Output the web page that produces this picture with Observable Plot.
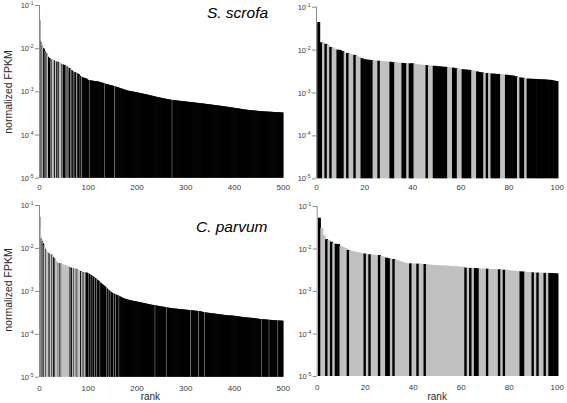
<!DOCTYPE html>
<html><head><meta charset="utf-8">
<script src="https://cdn.jsdelivr.net/npm/d3@7"></script>
<script src="https://cdn.jsdelivr.net/npm/@observablehq/plot@0.6"></script>
<style>
body{margin:0;background:#fff;}
#root{position:relative;width:567px;height:403px;overflow:hidden;background:#fff;font-family:"Liberation Sans",Arial,sans-serif;}
.lbl{position:absolute;white-space:nowrap;color:#2a2a2a;line-height:1;}
</style></head><body><div id="root"></div>
<script>
// ---- DATA ----
const speciesTitles = ["S. scrofa", "C. parvum"];
const yAxisTitle = "normalized FPKM";
const xAxisTitle = "rank";
const xTicksWide = [0, 100, 200, 300, 400, 500];
const xTicksZoom = [0, 20, 40, 60, 80, 100];
const yTicks = [1e-5, 1e-4, 1e-3, 1e-2, 1e-1];

// normalized FPKM x 10^6, ranks 1..500
const scrofaFPKMe6 = [
44000,14800,14400,13600,13000,11500,11200,10400,10000,9800,
9200,8700,8300,8000,7800,7500,7200,6700,6300,6000,
5900,5800,5700,5600,5600,5500,5400,5400,5300,5250,
5200,5100,5050,5000,4950,4900,4850,4850,4800,4800,
4700,4600,4500,4450,4400,4350,4300,4250,4200,4150,
4100,4050,4000,3950,3900,3850,3800,3700,3600,3550,
3500,3450,3400,3350,3300,3200,3100,3000,2950,2900,
2850,2800,2780,2750,2720,2700,2680,2650,2600,2560,
2520,2480,2400,2300,2250,2200,2150,2120,2100,2080,
2070,2060,2050,2040,2030,2000,1980,1950,1900,1850,
1840,1830,1820,1810,1800,1790,1780,1775,1770,1760,
1755,1750,1740,1730,1720,1715,1710,1705,1700,1700,
1690,1680,1670,1650,1640,1630,1610,1600,1590,1580,
1570,1560,1550,1540,1520,1500,1490,1480,1470,1460,
1450,1440,1430,1420,1410,1400,1390,1380,1370,1360,
1350,1340,1330,1320,1310,1300,1290,1280,1270,1260,
1250,1240,1230,1215,1200,1190,1180,1170,1160,1150,
1140,1130,1120,1110,1100,1090,1080,1070,1060,1050,
1045,1040,1035,1030,1025,1020,1015,1010,1005,1000,
995,990,985,980,975,970,965,960,955,950,
945,940,935,930,925,920,915,910,905,900,
895,890,885,880,875,870,865,860,855,850,
845,840,835,830,825,820,815,810,805,800,
795,790,785,780,775,770,765,760,755,750,
746,742,738,734,730,726,722,718,714,710,
706,702,698,694,690,686,682,678,674,670,
667,664,661,658,655,652,649,646,643,640,
638,636,634,632,630,628,626,624,622,620,
618,616,614,612,610,608,606,604,602,600,
599,598,596,594,592,590,588,586,584,582,
580,579,578,576,574,572,570,569,568,566,
564,562,560,559,558,556,554,552,550,549,
548,546,544,542,540,539,538,536,534,532,
530,529,528,526,524,522,520,519,518,516,
514,512,510,509,508,506,504,502,500,499,
498,496,494,492,490,489,488,486,484,482,
480,479,478,476,474,472,470,469,468,466,
464,462,460,459,458,456,454,452,450,449,
448,446,444,442,440,439,438,436,434,432,
430,429,428,426,424,422,420,419,418,416,
414,412,410,409,408,406,404,402,400,399,
398,396,394,392,390,389,388,386,384,382,
380,379,378,377,376,375,374,373,372,371,
370,369,368,367,366,365,364,363,362,361,
360,359,358,357,356,355,354,353,352,351,
350,349,348,347,346,346,345,345,344,344,
343,343,342,342,341,341,340,340,339,339,
338,338,337,337,336,336,335,335,334,334,
333,333,332,332,331,331,330,330,329,329,
328,328,327,327,326,326,325,325,324,324
];
const scrofaGrayRanks = [3,5,7,8,12,14,15,17,18,24,25,27,28,29,30,33,34,35,38,41,42,43,44,45,47,48,55,56,59,60,65,66,70,72,77,78,84,87,103,135,155,273];

const parvumFPKMe6 = [
53000,30000,20500,16600,15800,14500,13500,12900,12700,11500,
10800,10200,9300,9000,8700,8400,8200,8000,7800,7600,
7450,7300,7200,7100,7050,7000,6700,6400,6100,5900,
5800,5650,5450,5200,5000,4800,4600,4500,4470,4440,
4420,4400,4380,4350,4320,4250,4200,4150,4100,4070,
4040,4000,3980,3950,3920,3900,3870,3840,3800,3750,
3700,3550,3520,3500,3480,3460,3430,3400,3380,3360,
3340,3320,3300,3280,3260,3240,3200,3170,3140,3100,
3060,3020,2980,2940,2900,2870,2840,2810,2780,2750,
2730,2710,2700,2690,2680,2670,2660,2650,2630,2600,
2560,2520,2480,2440,2400,2360,2320,2280,2240,2200,
2150,2110,2070,2030,2000,1960,1920,1880,1840,1800,
1760,1720,1680,1640,1600,1560,1520,1480,1450,1420,
1390,1360,1330,1300,1270,1240,1210,1180,1150,1120,
1090,1060,1040,1020,1000,980,960,940,920,900,
890,880,870,860,850,840,830,820,810,800,
790,780,770,760,750,740,730,720,710,700,
690,682,675,668,662,656,650,645,640,635,
630,625,620,616,612,608,604,600,597,594,
591,588,585,582,579,576,573,570,567,564,
561,558,555,552,549,546,543,540,537,534,
531,528,525,522,519,516,513,510,507,504,
501,498,495,492,489,486,483,480,478,476,
474,472,470,468,466,464,462,460,458,456,
454,452,450,448,446,444,442,440,438,436,
434,432,430,428,426,424,422,420,418,416,
414,412,410,408,406,404,402,400,398,396,
394,393,392,391,390,389,388,387,386,385,
384,383,382,381,380,379,378,377,376,375,
374,373,372,371,370,369,368,367,366,365,
364,363,362,361,360,359,358,357,356,355,
354,353,352,351,350,349,348,347,346,345,
344,343,342,341,340,339,338,337,336,335,
333,331,329,327,325,323,321,319,317,315,
314,313,312,311,310,309,308,307,306,305,
304,303,302,301,300,299,298,297,296,295,
294,293,292,291,290,289,288,287,286,285,
284,283,282,281,280,279,278,277,276,275,
274,273,272,271,270,270,269,269,268,268,
267,267,266,266,265,265,264,264,263,263,
262,261,260,259,258,257,256,255,254,253,
252,251,250,249,248,247,246,245,244,243,
242,242,241,241,240,240,239,239,238,238,
237,237,236,236,235,235,234,234,233,233,
232,231,230,229,228,227,226,225,224,223,
222,222,221,221,220,220,219,219,218,218,
217,217,216,216,215,215,214,214,213,213,
212,212,211,211,210,210,209,209,208,208,
207,207,207,206,206,206,205,205,205,204,
204,204,203,203,203,202,202,202,201,201
];
const parvumGrayRanks = [2,3,5,7,10,11,12,14,15,16,17,18,19,21,23,24,25,27,28,31,33,34,35,36,37,38,40,41,43,44,
46,47,48,49,50,51,52,53,54,55,56,57,58,59,60,61,63,65,68,69,70,72,73,74,75,77,79,80,81,82,83,84,87,88,89,91,93,94,96,
101,105,109,114,118,125,138,142,146,153,157,164,238,261,311,327,340,457,472,490];

// ---- DRAWING ----
const root = document.getElementById("root");
const NS = "http://www.w3.org/2000/svg";

function panel(vals, grays, maxRank, xTicks, o) {
  const g = new Set(grays);
  const data = vals.slice(0, maxRank).map((v, i) => ({rank: i + 1, fpkm: v / 1e6, kind: g.has(i + 1) ? "light" : "dark"}));
  const marks = [
    Plot.rect(data, {x1: d => d.rank - 0.5, x2: d => d.rank + 0.5, y1: () => 1e-5, y2: "fpkm", fill: "kind", insetRight: -0.6}),
    Plot.ruleX([0], {y1: 1e-5, y2: 1e-1, stroke: "#8c8c8c"})
  ];
  if (o.xlabel) {
    marks.push(Plot.text([o.xlabel], {text: d => d, frameAnchor: "bottom", lineAnchor: "middle", dx: o.xlabelDx, dy: o.xlabelDy, fontSize: 10, fill: "#2a2a2a"}));
  }
  const svg = Plot.plot({
    width: o.w, height: o.h,
    marginLeft: o.ml, marginRight: o.mr, marginTop: o.mt, marginBottom: o.mb,
    style: {background: "transparent", fontFamily: '"Liberation Sans", Arial, sans-serif', fontSize: "8px", color: "#3a3a3a", overflow: "visible"},
    x: {domain: [0, maxRank], ticks: xTicks, tickSize: 0, tickPadding: o.xpad, label: null, tickFormat: d => String(d)},
    y: {type: "log", domain: [1e-5, 1e-1], ticks: yTicks, tickSize: 4, tickPadding: 2, label: null,
        tickFormat: d => "10^" + Math.round(Math.log10(d))},
    color: {type: "ordinal", domain: ["dark", "light"], range: ["#000000", "#c0c0c0"]},
    marks
  });
  // superscript exponents on y tick labels
  svg.querySelectorAll("text").forEach(t => {
    const m = /^10\^(-?\d+)$/.exec(t.textContent.trim());
    if (!m) return;
    while (t.firstChild) t.removeChild(t.firstChild);
    const a = document.createElementNS(NS, "tspan"); a.textContent = "10"; a.setAttribute("font-size", "7.5");
    const b = document.createElementNS(NS, "tspan"); b.textContent = m[1]; b.setAttribute("font-size", "5"); b.setAttribute("dy", "-3");
    t.append(a, b);
  });
  svg.querySelectorAll('g[aria-label="y-axis tick"] path, g[aria-label="y-axis tick"] line, .tick line').forEach(p => p.setAttribute("stroke", "#8c8c8c"));
  svg.style.position = "absolute";
  svg.style.left = o.left + "px";
  svg.style.top = o.top + "px";
  svg.style.maxWidth = "none";
  root.appendChild(svg);
}

panel(scrofaFPKMe6, scrofaGrayRanks, 500, xTicksWide, {left: 0, top: 0, w: 295, h: 200, ml: 39, mr: 12.3, mt: 5, mb: 22.3, xpad: 6});
panel(scrofaFPKMe6, scrofaGrayRanks, 100, xTicksZoom, {left: 285, top: 0, w: 282, h: 200, ml: 31, mr: 10.3, mt: 6.7, mb: 21.7, xpad: 6});
panel(parvumFPKMe6, parvumGrayRanks, 500, xTicksWide, {left: 0, top: 200, w: 295, h: 203, ml: 39, mr: 12.3, mt: 5, mb: 26.3, xpad: 8,
  xlabel: xAxisTitle, xlabelDx: -11, xlabelDy: 19.5});
panel(parvumFPKMe6, parvumGrayRanks, 100, xTicksZoom, {left: 285, top: 200, w: 282, h: 203, ml: 31.7, mr: 10.3, mt: 6, mb: 27, xpad: 8,
  xlabel: xAxisTitle, xlabelDx: 0, xlabelDy: 20});

function label(text, x, y, css) {
  const d = document.createElement("div");
  d.className = "lbl";
  d.textContent = text;
  d.style.left = x + "px"; d.style.top = y + "px";
  d.style.color = "#2a2a2a";
  Object.assign(d.style, css);
  root.appendChild(d);
}
const center = {transform: "translate(-50%,-50%)"};
label(speciesTitles[0], 237.5, 13, {...center, fontSize: "15.5px", fontStyle: "italic", color: "#000000"});
label(speciesTitles[1], 231.7, 227, {...center, fontSize: "15.5px", fontStyle: "italic", color: "#000000"});
label(yAxisTitle, 7.5, 92, {transform: "translate(-50%,-50%) rotate(-90deg)", fontSize: "10.5px"});
label(yAxisTitle, 7.5, 290, {transform: "translate(-50%,-50%) rotate(-90deg)", fontSize: "10.5px"});
</script></body></html>
